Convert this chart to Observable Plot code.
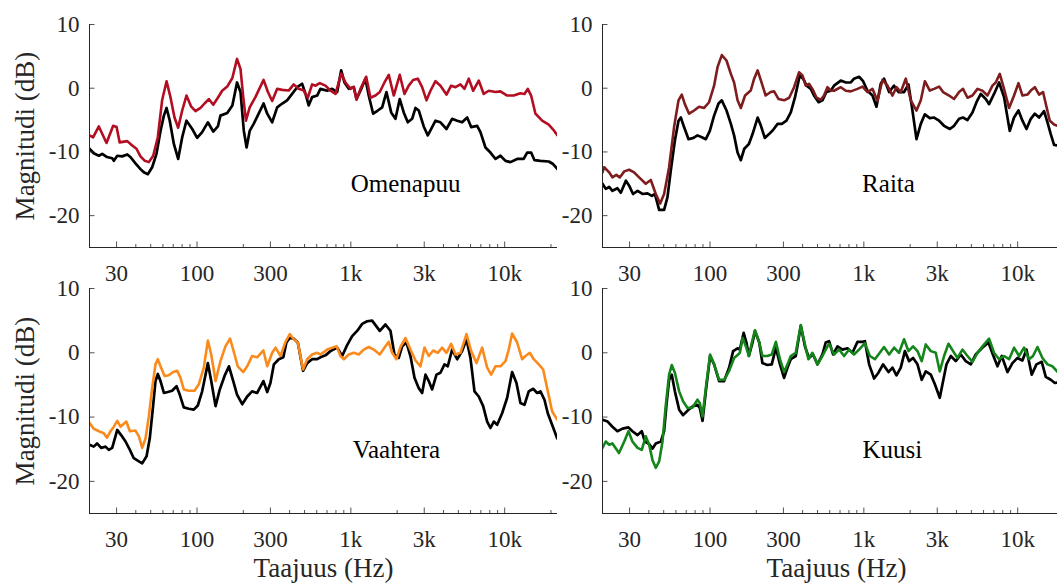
<!DOCTYPE html>
<html><head><meta charset="utf-8">
<script src="https://cdn.jsdelivr.net/npm/d3@7"></script>
<script src="https://cdn.jsdelivr.net/npm/@observablehq/plot@0.6"></script>
<style>
html,body{margin:0;padding:0;background:#fff;overflow:hidden}
#fig{position:relative;width:1057px;height:583px;overflow:hidden;background:#fff}
</style></head><body><div id="fig"></div>
<script>
// Frequency (Hz), magnitude (dB)
const omenapuu = [[20,-7.4],[21.1,-7.7],[23.0,-6.0],[25.8,-8.6],[28.5,-5.9],[30.0,-6.1],[31.4,-8.5],[35.2,-8.3],[37.9,-9.0],[40.4,-9.5],[42.9,-10.7],[45.8,-11.4],[48.6,-11.6],[51.9,-10.6],[55.6,-7.7],[59.3,-1.9],[63.4,1.1],[67.2,-1.4],[71.4,-4.6],[75.4,-6.2],[80.1,-3.5],[85.4,-1.15],[91.7,-2.9],[97.8,-3.6],[105.4,-3.1],[111.9,-2.4],[119.3,-1.7],[127.5,-2.6],[136.6,-1.5],[145.7,-0.4],[157.2,0.26],[169.7,1.6],[182,4.6],[191.8,3.0],[199.8,-1.4],[208,-5.1],[220,-3.0],[239.6,-1.4],[270.8,1.3],[289,-0.6],[308,-2.0],[332,-0.1],[358,-0.26],[394.5,-0.37],[425,0.6],[458,-0.1],[494,-0.37],[525,-1.5],[560,0.6],[589,0.4],[628,0.8],[684,0.4],[737,-0.4],[795,-0.9],[865,2.3],[923,0.9],[995,-0.1],[1045,0.16],[1088,-1.8],[1155,-0.1],[1258,1.8],[1341,-1.5],[1446,-1.15],[1542,-0.6],[1654,0.9],[1764,2.1],[1901,-1.15],[2079,2.1],[2232,-0.9],[2379,0.4],[2541,1.3],[2724,1.5],[2907,0.16],[3103,-1.9],[3293,-0.4],[3550,1.1],[3824,0.4],[4185,-1.0],[4488,0.4],[4789,0.16],[5158,0.6],[5480,-0.1],[5842,1.5],[6238,-0.4],[6784,1.2],[7307,-0.9],[7878,-0.4],[8714,-0.6],[9386,-0.5],[10380,-1.15],[11450,-1.15],[12660,-0.8],[13450,-0.9],[14130,-0.1],[14860,-1.15],[15850,-4.0],[17520,-5.1],[19340,-5.7],[20830,-6.6],[22050,-7.4]];
const omenapuuRef = [[20,-9.5],[21.3,-10.2],[23.0,-10.6],[24.2,-10.3],[26.0,-10.8],[28.1,-11.0],[28.8,-11.4],[30.3,-10.6],[32.6,-10.7],[35.2,-10.4],[36.9,-10.8],[39.8,-11.8],[42.9,-12.7],[45.1,-13.2],[47.9,-13.5],[51.1,-12.4],[54.5,-10.3],[57.9,-6.7],[60.9,-4.3],[63.4,-3.1],[66.5,-5.1],[70.7,-8.75],[75.4,-11.1],[80.1,-7.7],[85.4,-5.1],[93.1,-6.4],[100.2,-7.8],[108,-6.9],[117.6,-5.35],[127.5,-6.8],[136.6,-6.0],[142,-4.3],[157.2,-3.9],[169.7,-2.7],[175,-1.15],[182,0.9],[191.8,-0.6],[201.5,-6.7],[210,-9.3],[220,-6.7],[233.5,-5.6],[251.6,-4.0],[270.8,-2.4],[286,-4.0],[308,-5.35],[332,-3.0],[358,-2.4],[385,-1.9],[415,-0.9],[448,0.16],[482,0.7],[507.5,-0.9],[532,-2.7],[560,-1.4],[604,-1.15],[634,-0.1],[702,-0.4],[756,-0.1],[815,-0.6],[865,2.8],[909,0.9],[970,-0.1],[1045,0.2],[1088,-1.7],[1155,-0.4],[1244,1.5],[1307,-1.15],[1396,-4.0],[1497,-3.5],[1598,-3.0],[1704,-0.6],[1829,-3.8],[1950,-4.8],[2079,-1.7],[2207,-3.8],[2345,-5.35],[2503,-4.8],[2632,-3.1],[2764,-3.5],[2977,-6.0],[3163,-7.4],[3377,-6.1],[3550,-5.1],[3824,-5.35],[4185,-6.4],[4554,-4.8],[4911,-5.1],[5290,-5.35],[5705,-4.6],[6054,-6.1],[6625,-5.9],[6958,-6.9],[7501,-9.3],[8081,-10.1],[8714,-11.1],[9386,-10.6],[10120,-11.4],[10900,-11.6],[12050,-11.1],[13290,-11.1],[14000,-10.1],[14860,-10.1],[15620,-11.3],[17080,-11.4],[19340,-11.5],[20650,-11.9],[22050,-12.7]];
const raita = [[20,-13.2],[20.5,-12.4],[22.1,-13.2],[23.2,-14.0],[24.6,-13.6],[25.9,-14.0],[27.7,-13.05],[29.8,-12.8],[32.1,-13.2],[34.6,-14.0],[38.2,-15.0],[41.2,-14.4],[44.4,-16.6],[47.4,-18.1],[50.3,-16.6],[54.2,-12.4],[58.4,-6.1],[62.4,-1.9],[65.5,-1.0],[68.6,-2.5],[73.1,-4.0],[78.8,-3.5],[84.9,-2.9],[91.6,-3.1],[98.6,-2.2],[106.3,0.4],[111.9,3.3],[119.3,5.2],[128,4.35],[136.6,2.25],[143.4,0.9],[151,-1.9],[158.6,-3.1],[169,-1.15],[183.9,-0.37],[193.6,1.5],[204,2.8],[214.3,1.2],[230,-1.15],[248,-0.6],[261,-0.5],[279,-1.7],[303,-1.9],[327,-1.5],[352,0.16],[379,2.5],[399,2.0],[419,0.4],[440,0.7],[463,-0.1],[493,-1.5],[525,-1.8],[551,-1.15],[580,0.16],[609,-0.37],[640,-0.4],[708,0.16],[763,-0.4],[823,-0.5],[909,-0.1],[980,0.26],[1056,-0.6],[1138,-0.1],[1226,-2.0],[1321,1.3],[1425,0.4],[1535,-1.15],[1630,0.16],[1738,-0.6],[1873,1.5],[2018,-1.9],[2199,-3.5],[2345,-1.9],[2492,1.1],[2684,-0.37],[2861,-0.1],[3084,0.26],[3273,-0.6],[3582,-1.15],[3859,-1.7],[4161,-0.6],[4414,-0.1],[4718,-1.5],[5082,-1.15],[5480,-0.1],[5902,-0.4],[6364,-1.15],[6855,0.4],[7203,0.9],[7649,2.25],[8155,-0.1],[8794,-3.1],[9472,-1.15],[10120,0.8],[10740,-1.15],[11580,-1.0],[12170,-0.37],[12930,0.16],[13780,-1.0],[14620,-0.6],[15390,-2.9],[16170,-5.1],[17240,-5.7],[18220,-5.9]];
const raitaRef = [[20,-15.0],[21.0,-15.8],[22.1,-15.5],[23.2,-16.1],[25.0,-15.7],[26.3,-16.4],[28.4,-14.5],[29.8,-15.3],[31.6,-16.6],[33.8,-16.1],[36.4,-16.6],[39.2,-16.5],[41.9,-16.9],[43.8,-16.6],[46.7,-19.1],[50.3,-19.1],[52.9,-17.1],[55.6,-12.9],[59.1,-8.2],[62.4,-5.1],[64.6,-4.6],[67.8,-6.1],[72.5,-8.0],[78.1,-7.8],[82.9,-7.4],[88.5,-7.7],[93.9,-8.0],[99.7,-6.7],[106.3,-4.3],[113.6,-2.4],[119.3,-1.9],[128,-3.5],[136.6,-5.6],[143.4,-7.4],[151,-10.1],[158.6,-11.3],[167,-9.5],[179,-8.75],[189,-7.2],[204,-4.6],[214.3,-5.9],[227,-7.8],[242,-7.2],[257,-6.55],[275,-5.6],[293,-5.6],[314,-5.1],[335,-3.8],[357,-1.4],[383,2.0],[403,1.5],[424,0.4],[452,-0.1],[474,-1.15],[507.5,-2.2],[538,-1.9],[571,-0.6],[609,-0.4],[640,0.4],[708,1.2],[763,0.9],[823,0.9],[863,1.5],[931,1.8],[989,1.1],[1056,-0.4],[1138,-1.15],[1208,-2.9],[1288,0.7],[1353,1.5],[1460,-0.6],[1572,0.4],[1679,-0.6],[1826,-0.6],[1950,0.6],[2070,-3.5],[2199,-8.0],[2345,-5.6],[2492,-4.1],[2684,-4.7],[2861,-4.6],[3084,-5.1],[3323,-5.9],[3619,-6.4],[3859,-5.9],[4161,-4.8],[4414,-4.6],[4718,-5.0],[5082,-3.8],[5399,-2.2],[5757,-0.9],[6201,-1.7],[6519,-2.5],[7022,-0.9],[7570,0.9],[8155,-1.4],[8885,-6.7],[9472,-4.6],[10120,-3.5],[10740,-5.1],[11410,-6.4],[12170,-4.8],[12930,-4.0],[13780,-4.6],[14840,-3.6],[15620,-5.35],[16410,-7.2],[17240,-8.9],[18220,-9.0]];
const vaahtera = [[20,-10.9],[21.3,-11.8],[23.0,-12.2],[24.7,-12.5],[26.0,-13.2],[27.4,-12.2],[28.8,-11.5],[30.3,-10.6],[31.8,-11.5],[34.7,-10.7],[36.6,-12.2],[39.8,-12.1],[41.9,-13.0],[44.0,-14.8],[46.3,-13.3],[48.6,-9.9],[51.1,-5.5],[53.7,-1.8],[55.6,-1.0],[57.9,-2.1],[61.5,-3.6],[65.5,-3.5],[70.0,-3.0],[74.3,-2.8],[78.1,-3.9],[82.0,-5.7],[88.5,-5.9],[96.3,-5.9],[102.7,-4.9],[110.7,-2.3],[117.6,1.9],[123.7,-0.26],[132,-4.4],[142,-1.3],[153,1.0],[164,2.2],[173,0.26],[183.9,-2.1],[199.8,-3.0],[212,-2.1],[228,-0.5],[246,-0.7],[270,0.36],[286,-2.1],[308,0],[324,0.8],[349,-0.5],[376,1.7],[401,2.9],[425,2.1],[452,1.6],[489,-2.6],[520,-1.0],[560,-0.26],[604,0],[634,-0.26],[702,0.5],[756,0.8],[807,1.0],[856,-0.5],[900,-1.0],[970,-0.26],[1045,0],[1126,-0.26],[1213,0.5],[1307,0.9],[1410,0.5],[1542,-0.26],[1679,1.0],[1764,1.7],[1856,0],[1979,-1.0],[2101,0.9],[2266,2.3],[2440,0.5],[2632,-1.2],[2835,-2.1],[3011,0.8],[3210,-0.5],[3429,0.36],[3674,0],[3921,0.8],[4185,0],[4488,1.4],[4789,-0.26],[5158,0],[5647,2.9],[6054,0.26],[6558,-1.6],[7136,0.8],[7693,-2.3],[8167,-3.4],[8714,-2.1],[9386,-2.1],[10120,-1.3],[10630,0.5],[11180,3.0],[12050,1.6],[12980,-1.0],[13650,-0.5],[14560,0],[15460,-1.0],[16650,-1.8],[17790,-2.6],[18880,-5.5],[20340,-9.1],[21930,-10.4]];
const vaahteraRef = [[20,-14.3],[21.3,-14.6],[22.4,-14.1],[23.8,-14.8],[25.4,-14.6],[26.7,-15.1],[28.1,-14.8],[30.3,-12.0],[32.1,-12.8],[34.3,-13.8],[36.6,-15.1],[38.8,-16.4],[41.9,-16.9],[44.0,-17.2],[47.0,-16.1],[49.3,-13.3],[51.9,-8.1],[53.7,-4.4],[55.6,-3.3],[57.9,-4.4],[60.9,-6.25],[64.6,-6.1],[68.9,-5.9],[73.6,-5.2],[77.2,-6.5],[82.0,-8.5],[88.5,-8.7],[95.3,-8.85],[101.2,-8.2],[108,-6.0],[113.6,-3.4],[117.6,-1.6],[123.7,-4.4],[132,-8.3],[140.6,-5.7],[151,-3.6],[161.3,-2.1],[172,-4.4],[182,-6.5],[196.7,-8.0],[212,-6.8],[228,-6.0],[246,-6.25],[270,-4.4],[286,-6.1],[300,-4.7],[316,-1.8],[340,-1.0],[364,-0.7],[381,1.6],[401,2.3],[425,2.2],[452,1.6],[489,-2.8],[520,-1.6],[560,-1.0],[604,-1.0],[634,-0.7],[684,-0.4],[737,0.26],[815,0.8],[878,-0.5],[946,1.2],[1020,2.6],[1099,3.4],[1185,4.5],[1276,4.9],[1375,5.0],[1446,4.3],[1542,3.4],[1679,4.4],[1810,3.4],[1921,-0.26],[2048,-0.8],[2155,1.0],[2300,1.6],[2440,-0.5],[2593,-3.9],[2764,-5.5],[2907,-6.25],[3056,-3.4],[3210,-4.4],[3377,-5.7],[3603,-3.4],[3824,-3.1],[4062,-1.8],[4268,-2.1],[4554,0.5],[4911,-1.0],[5290,0.26],[5647,2.1],[5991,-0.8],[6364,-6.0],[6784,-6.8],[7246,-8.3],[7693,-10.7],[8081,-11.7],[8496,-10.7],[8937,-11.2],[9626,-9.4],[10380,-7.0],[11180,-3.0],[11930,-4.7],[12660,-7.8],[13450,-8.1],[14340,-6.0],[15320,-5.6],[16260,-6.25],[17080,-6.0],[18140,-7.3],[19060,-9.4],[20340,-11.2],[21930,-13.3]];
const kuusi = [[20,-14.8],[21.0,-13.8],[22.1,-14.3],[23.2,-14.1],[25.6,-15.6],[27.7,-13.8],[29.5,-12.2],[31.3,-13.8],[33.8,-14.8],[36.0,-15.1],[38.2,-13.0],[40.2,-14.3],[42.3,-16.7],[44.4,-17.9],[46.7,-16.9],[49.1,-13.8],[51.6,-8.1],[54.2,-3.4],[56.4,-1.9],[59.1,-3.1],[63.0,-6.0],[66.8,-7.55],[71.4,-8.6],[76.9,-8.5],[82.9,-7.3],[85.8,-7.8],[89.4,-9.9],[93.9,-5.5],[100.1,-0.26],[106.3,-1.8],[114.6,-4.2],[123.5,-4.2],[133.2,-2.8],[143.4,-0.8],[151,-0.36],[156.3,0],[163,2.3],[171,1.0],[179,-0.5],[187,1.6],[196,3.5],[209,1.6],[219,-0.5],[236,-0.5],[252,-0.26],[268,1.7],[285,-1.0],[303,-3.0],[319,-1.8],[335,-0.5],[361,0],[389,4.3],[414,1.3],[436,-1.0],[463,0],[500,-1.8],[538,-0.5],[580,1.0],[594,1.4],[640,-0.26],[690,0.5],[744,-0.5],[802,0.5],[863,-0.26],[931,0.5],[1016,1.5],[1093,-0.5],[1180,-1.0],[1269,0],[1353,0.9],[1460,-0.26],[1572,0.8],[1694,0],[1826,2.1],[1950,0.26],[2089,1.0],[2232,0.26],[2379,-1.3],[2526,1.3],[2724,0.26],[2934,0],[3116,-2.9],[3323,-0.5],[3550,1.4],[3801,0.26],[4062,-0.8],[4375,0.5],[4718,-0.5],[5082,-1.4],[5480,0],[5902,1.0],[6519,2.2],[7022,0],[7570,-1.0],[8155,-0.5],[8794,-1.0],[9472,0.8],[10210,-0.5],[11000,0.8],[11860,-1.0],[12580,-0.5],[13450,0.9],[14490,-0.8],[15620,-1.8],[16830,-2.1],[18220,-3.0]];
const kuusiRef = [[20,-10.4],[21.6,-10.7],[23.2,-11.5],[25.0,-12.2],[27.0,-11.8],[29.5,-11.6],[31.3,-12.2],[33.8,-12.8],[36.0,-12.2],[37.7,-13.8],[40.2,-14.2],[42.3,-14.9],[44.4,-14.1],[47.9,-13.8],[50.3,-12.2],[52.1,-8.1],[54.2,-4.2],[56.4,-3.4],[59.1,-6.0],[63.0,-8.85],[66.8,-9.7],[72.5,-8.85],[77.6,-8.3],[82.9,-8.1],[85.8,-8.6],[89.4,-10.6],[93.9,-6.0],[100.1,-0.5],[106.3,-1.8],[114.6,-4.4],[123.5,-4.4],[133.2,-2.3],[141.3,0.26],[151,0.7],[156.3,0.5],[165.5,3.1],[172.4,1.6],[179,-0.5],[189,1.6],[196,3.4],[209,1.6],[219,-1.6],[236,-1.9],[252,-1.8],[268,0.8],[285,-1.8],[303,-3.9],[319,-2.3],[335,-1.0],[361,-0.5],[389,4.2],[414,1.0],[440,-0.8],[467,-0.26],[500,-1.8],[538,-0.26],[565,1.6],[594,1.8],[631,-0.26],[674,1.0],[726,0.5],[783,0.7],[843,0],[909,1.7],[980,1.7],[1016,1.8],[1082,-1.8],[1166,-4.0],[1244,-3.1],[1333,-1.8],[1446,-3.0],[1535,-2.3],[1630,-3.5],[1738,-2.3],[1848,0.26],[1968,-1.3],[2089,-0.8],[2232,-1.8],[2379,-4.2],[2526,-2.9],[2724,-3.4],[2895,-4.9],[3116,-7.0],[3244,-4.9],[3445,-1.8],[3674,-0.5],[3958,-1.3],[4268,-0.26],[4596,-1.3],[4957,-1.8],[5339,-0.26],[5842,0.7],[6460,1.6],[6917,-0.36],[7390,-2.1],[7879,-0.5],[8585,-3.0],[9247,-1.6],[9970,-0.8],[10740,-1.2],[11410,0.5],[12340,-3.4],[13250,-1.8],[14340,-1.4],[15230,-3.75],[16410,-4.2],[17450,-4.7],[18220,-4.6]];

const xTicks = [30, 100, 300, 1000, 3000, 10000];
const xMinorTicks = [40,50,60,70,80,90,200,400,500,600,700,800,900,2000,4000,5000,6000,7000,8000,9000,20000];
const yTicks = [-20, -10, 0, 10];
const xDomain = [20, 22050];
const yDomain = [-25, 10];

const fig = document.getElementById("fig");
const axisColor = "#262626";
const fmtX = d => d >= 1000 ? (d / 1000) + "k" : String(d);

function panel(o) {
  const W = 468, ml = 89, mr = 14;
  const innerH = o.height - o.mt - o.mb;
  const marks = [
    Plot.line(o.ref, {x: d => d[0], y: d => d[1], stroke: "#000", strokeWidth: 2.7, strokeLinejoin: "round", clip: true}),
    Plot.line(o.data, {x: d => d[0], y: d => d[1], stroke: o.color, strokeWidth: 2.6, strokeLinejoin: "round", clip: true}),
    Plot.ruleX([xDomain[0]], {stroke: axisColor, strokeWidth: 1}),
    Plot.ruleY([yDomain[0]], {stroke: axisColor, strokeWidth: 1}),
    Plot.tickX(xMinorTicks, {x: d => d, insetTop: innerH - 3, stroke: axisColor, strokeWidth: 0.8}),
    Plot.tickX(xTicks, {x: d => d, insetTop: innerH - 5.5, stroke: axisColor, strokeWidth: 0.8}),
    Plot.tickY(yTicks, {y: d => d, insetRight: W - 5.5, stroke: axisColor, strokeWidth: 0.8}),
    Plot.axisX({ticks: xTicks, tickFormat: fmtX, tickSize: 0, tickPadding: 17, fontSize: 23, label: null, fill: axisColor}),
    Plot.axisY({ticks: yTicks, tickFormat: d => String(d), tickSize: 0, tickPadding: 10, fontSize: 23, label: null, fill: axisColor}),
    Plot.text([o.name], {x: o.labelX, y: -15.1, text: d => d, fontSize: 25, fill: "#000", textAnchor: "middle", lineAnchor: "middle"})
  ];
  if (o.yTitle) marks.push(Plot.text(["Magnitudi (dB)"], {frameAnchor: "left", text: d => d, rotate: -90, dx: -64, fontSize: 27, fill: axisColor, textAnchor: "middle", lineAnchor: "middle"}));
  if (o.xTitle) marks.push(Plot.text(["Taajuus (Hz)"], {frameAnchor: "bottom", text: d => d, dy: 54.5, fontSize: 27, fill: axisColor, textAnchor: "middle", lineAnchor: "middle"}));
  const svg = Plot.plot({
    width: ml + W + mr, height: o.height,
    marginLeft: ml, marginRight: mr, marginTop: o.mt, marginBottom: o.mb,
    style: {background: "transparent", fontFamily: '"Liberation Serif", "Times New Roman", serif', color: axisColor, overflow: "visible"},
    x: {type: "log", domain: xDomain, axis: null},
    y: {domain: yDomain, axis: null},
    marks
  });
  svg.style.position = "absolute";
  svg.style.left = o.left + "px";
  svg.style.top = o.top + "px";
  svg.style.maxWidth = "none";
  fig.appendChild(svg);
}

panel({ref: omenapuuRef, data: omenapuu, color: "#b30d22", name: "Omenapuu", labelX: 2270, left: 0, top: 0, height: 283, mt: 24, mb: 36, yTitle: true});
panel({ref: raitaRef, data: raita, color: "#7e1c1e", name: "Raita", labelX: 1446, left: 513, top: 0, height: 283, mt: 24, mb: 36, yTitle: false});
panel({ref: vaahteraRef, data: vaahtera, color: "#fb8a1c", name: "Vaahtera", labelX: 1979, left: 0, top: 283, height: 300, mt: 5, mb: 70, yTitle: true, xTitle: true});
panel({ref: kuusiRef, data: kuusi, color: "#13851a", name: "Kuusi", labelX: 1530, left: 513, top: 283, height: 300, mt: 5, mb: 70, yTitle: false, xTitle: true});
</script></body></html>
